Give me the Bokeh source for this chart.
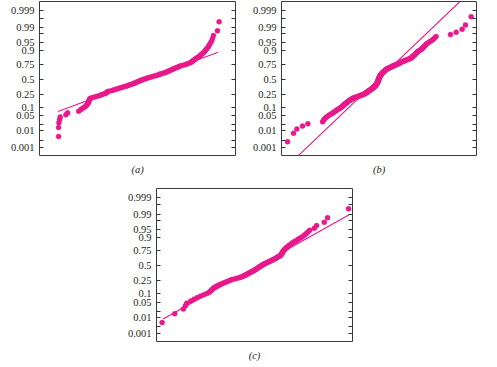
from statistics import NormalDist
from bokeh.plotting import figure
from bokeh.models import Range1d, FixedTicker, LinearAxis, CustomJSTickFormatter, Title
from bokeh.layouts import column, row
from bokeh.embed import file_html
from bokeh.resources import INLINE

# ---------------- data ----------------
tick_probs = [0.001, 0.003, 0.01, 0.02, 0.05, 0.1, 0.25, 0.5, 0.75, 0.9, 0.95, 0.98, 0.99, 0.997, 0.999]
tick_labels = ["0.001", "", "0.01", "", "0.05", "0.1", "0.25", "0.5", "0.75", "0.9", "0.95", "", "0.99", "", "0.999"]

# (a) sorted sample values (arbitrary units)
x_a = [60, 60, 61, 63, 65, 82, 87, 120, 126, 132,
       138, 142, 145, 147, 149, 150, 151, 152, 153, 155,
       162, 170, 178, 185, 190, 196, 201, 204, 206, 210,
       220, 225, 231, 237, 243, 249, 255, 261, 266, 271,
       276, 281, 285, 289, 293, 297, 301, 305, 309, 313,
       318, 323, 328, 334, 340, 346, 352, 357, 362, 366,
       372, 378, 383, 386, 390, 394, 398, 402, 406, 411,
       416, 420, 425, 432, 440, 445, 452, 456, 459, 462,
       465, 468, 471, 476, 480, 483, 487, 490, 494, 497,
       500, 503, 507, 510, 513, 517, 520, 523, 535, 540]
fit_a_x = [58, 537]
fit_a_z = [-1.45, 1.21]

# (b)
x_b = [22, 40, 50, 67, 83, 127, 130, 133, 137, 142,
       146, 151, 156, 160, 163, 167, 170, 173, 177, 180,
       182, 185, 187, 189, 190, 192, 194, 196, 198, 200,
       201, 203, 205, 207, 209, 211, 213, 215, 217, 220,
       222, 225, 229, 232, 235, 238, 241, 244, 247, 250,
       252, 253, 255, 257, 258, 259, 261, 262, 264, 265,
       266, 268, 269, 271, 272, 273, 275, 276, 277, 278,
       279, 280, 281, 282, 283, 284, 285, 286, 286.5, 287,
       287.5, 288, 288.5, 289, 289.5, 290, 290.5, 291, 291.5, 292,
       292.3, 292.6, 292.9, 293.2, 293.5, 293.8, 294.1, 294.4, 294.7, 295,
       295.3, 295.6, 296, 296.3, 296.6, 297, 297.3, 297.7, 298, 298.4,
       298.8, 299.2, 299.6, 300, 301, 301.7, 302.3, 303, 303.6, 304.3,
       305, 305.5, 306.5, 307.5, 308.5, 309.5, 310.5, 311.5, 312.3, 313,
       314.5, 315.5, 316.5, 317.5, 318.5, 320, 322, 324, 326, 328,
       330, 332, 334, 336, 338, 340, 342, 345, 347, 350,
       352, 354, 356, 358, 360, 362, 365, 367, 370, 373,
       376, 379, 382, 386, 389, 391, 393, 395, 396, 397,
       399, 401, 403, 404, 405, 407, 409, 410, 412, 415,
       418, 421, 424, 426, 428, 430, 433, 435, 438, 442,
       447, 452, 458, 462, 467, 510, 527, 545, 555, 572]
fit_b_x = [50, 540]
fit_b_z = [-3.50, 3.51]

# (c)
x_c = [22, 60, 86, 92, 96, 108, 118, 128, 138, 148,
       157, 164, 168, 171, 174, 177, 180, 185, 190, 195,
       200, 206, 212, 217, 222, 227, 232, 240, 248, 255,
       260, 265, 269, 273, 276, 279, 282, 286, 289, 292,
       296, 299, 302, 304, 307, 309, 312, 314, 317, 319,
       322, 324, 328, 331, 334, 338, 342, 345, 348, 352,
       356, 359, 363, 365, 368, 371, 374, 378, 379, 381,
       382, 383, 384, 385, 387, 388, 390, 392, 394, 397,
       400, 403, 406, 410, 413, 417, 422, 428, 432, 438,
       444, 450, 455, 460, 466, 480, 487, 510, 520, 583]
fit_c_x = [25, 585]
fit_c_z = [-2.41, 2.305]

PINK = "#E8198B"
INK = "#231F20"
FONT = "Liberation Serif"
ND = NormalDist()
tick_z = [ND.inv_cdf(q) for q in tick_probs]


def make_panel(xs, fx, fz, xr, caption, fw, fh, left, right, top, bottom, title_standoff):
    p = figure(frame_width=fw, frame_height=fh,
               min_border_left=left, min_border_right=right,
               min_border_top=top, min_border_bottom=bottom,
               x_range=Range1d(*xr), y_range=Range1d(-3.43, 3.49),
               x_axis_location=None, y_axis_location=None,
               output_backend="svg", toolbar_location=None)
    p.grid.visible = False
    p.outline_line_color = "#3a3a3a"
    p.outline_line_width = 1
    p.background_fill_color = "white"
    p.border_fill_color = "white"

    fmt = CustomJSTickFormatter(args=dict(zs=tick_z, labs=tick_labels), code="""
        for (let i = 0; i < zs.length; i++) {
            if (Math.abs(zs[i] - tick) < 1e-6) return labs[i];
        }
        return "";
    """)
    blank = CustomJSTickFormatter(code="return '';")
    for loc, f in (("left", fmt), ("right", blank)):
        ax = LinearAxis(ticker=FixedTicker(ticks=tick_z), formatter=f)
        ax.axis_line_color = None
        ax.major_tick_in = 4
        ax.major_tick_out = 0
        ax.major_tick_line_color = "#333333"
        ax.minor_tick_line_color = None
        ax.major_label_text_font = FONT
        ax.major_label_text_font_size = "10.5px"
        ax.major_label_text_color = INK
        ax.major_label_standoff = 5 if loc == "left" else 0
        p.add_layout(ax, loc)

    n = len(xs)
    ys = [ND.inv_cdf((i + 0.5) / n) for i in range(n)]
    p.line(fx, fz, line_color=PINK, line_width=1.1)
    p.scatter(xs, ys, size=5.0, fill_color=PINK, line_color=PINK, line_width=0.5)

    t = Title(text=caption, align="center", text_font=FONT, text_font_style="italic",
              text_font_size="10.5px", text_color=INK, standoff=title_standoff)
    p.add_layout(t, "below")
    return p


fa = make_panel(x_a, fit_a_x, fit_a_z, (3, 589), "(a)", 196, 154, 39, 14, 1, 30, 13)
fb = make_panel(x_b, fit_b_x, fit_b_z, (4, 588), "(b)", 195, 154, 28, 10, 1, 30, 13)
fc = make_panel(x_c, fit_c_x, fit_c_z, (5, 595), "(c)", 196, 153, 156, 10, 3, 20, 13)

p = column(row(fa, fb), fc)

open("out.html", "w").write(file_html(p, INLINE))
